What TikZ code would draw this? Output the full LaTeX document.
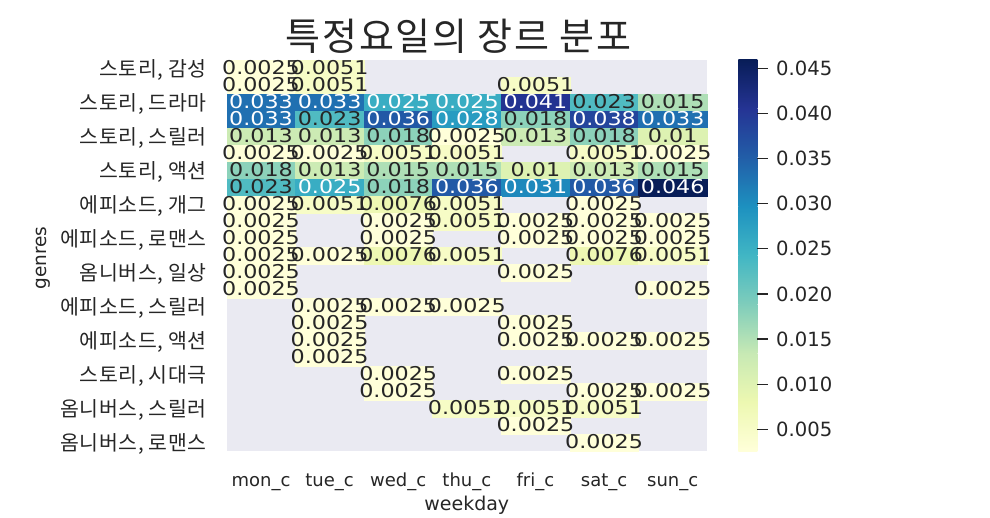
\documentclass[tikz,border=0pt]{standalone}
\usepackage{fontspec}
\setmainfont{DejaVu Sans}
\newfontfamily\krfont[LetterSpace=3]{Noto Sans CJK KR}
\newfontfamily\krtitle[LetterSpace=4.5]{Noto Sans CJK KR}
\newfontfamily\annfont[FakeStretch=1.17]{DejaVu Sans}
\definecolor{axbg}{HTML}{EAEAF2}
\definecolor{tdark}{HTML}{262626}
\definecolor{k1}{RGB}{255,255,217}
\definecolor{k2}{RGB}{247,252,198}
\definecolor{k3}{RGB}{238,248,179}
\definecolor{k4}{RGB}{221,242,178}
\definecolor{k5}{RGB}{204,235,180}
\definecolor{k6}{RGB}{174,223,182}
\definecolor{k7}{RGB}{140,210,186}
\definecolor{k8}{RGB}{109,198,190}
\definecolor{k9}{RGB}{80,187,194}
\definecolor{k10}{RGB}{57,173,195}
\definecolor{k11}{RGB}{40,156,193}
\definecolor{k12}{RGB}{30,136,188}
\definecolor{k13}{RGB}{32,112,177}
\definecolor{k14}{RGB}{34,89,166}
\definecolor{k15}{RGB}{36,69,156}
\definecolor{k16}{RGB}{35,51,145}
\definecolor{k17}{RGB}{22,40,116}
\definecolor{k18}{RGB}{8,29,88}
\definecolor{ga}{HTML}{FFFFD9}
\definecolor{gb}{HTML}{EDF8B1}
\definecolor{gc}{HTML}{C7E9B4}
\definecolor{gd}{HTML}{7FCDBB}
\definecolor{ge}{HTML}{41B6C4}
\definecolor{gf}{HTML}{1D91C0}
\definecolor{gg}{HTML}{225EA8}
\definecolor{gh}{HTML}{253494}
\definecolor{gi}{HTML}{081D58}
\pgfkeyssetvalue{/vl/1}{0.0025}
\pgfkeyssetvalue{/vl/2}{0.0051}
\pgfkeyssetvalue{/vl/3}{0.0076}
\pgfkeyssetvalue{/vl/4}{0.01}
\pgfkeyssetvalue{/vl/5}{0.013}
\pgfkeyssetvalue{/vl/6}{0.015}
\pgfkeyssetvalue{/vl/7}{0.018}
\pgfkeyssetvalue{/vl/9}{0.023}
\pgfkeyssetvalue{/vl/10}{0.025}
\pgfkeyssetvalue{/vl/11}{0.028}
\pgfkeyssetvalue{/vl/12}{0.031}
\pgfkeyssetvalue{/vl/13}{0.033}
\pgfkeyssetvalue{/vl/14}{0.036}
\pgfkeyssetvalue{/vl/15}{0.038}
\pgfkeyssetvalue{/vl/16}{0.041}
\pgfkeyssetvalue{/vl/18}{0.046}
\def\xo{226.7}
\def\yo{60}
\def\cw{68.614}
\def\ch{17}
\tikzset{
  annot/.style={inner sep=0pt, anchor=base, font=\annfont\fontsize{19}{19}\selectfont},
  ylab/.style={inner sep=0pt, anchor=base east, text=tdark, font=\krfont\fontsize{20.5}{21}\selectfont},
  xlab/.style={inner sep=0pt, anchor=base, text=tdark, font=\fontsize{18}{18}\selectfont},
  cblab/.style={inner sep=0pt, anchor=base west, text=tdark, font=\fontsize{19.6}{20}\selectfont},
  cbtick/.style={draw=tdark, line width=1.2pt}
}
\newcommand{\heatrows}{0/{1,2,0,0,0,0,0},1/{1,2,0,0,2,0,0},2/{13,13,10,10,16,9,6},3/{13,9,14,11,7,15,13},4/{5,5,7,1,5,7,4},5/{1,1,2,2,0,2,1},6/{7,5,6,6,4,5,6},7/{9,10,7,14,12,14,18},8/{1,2,3,2,0,1,0},9/{1,0,1,2,1,1,1},10/{1,0,1,0,1,1,1},11/{1,1,3,2,0,3,2},12/{1,0,0,0,1,0,0},13/{1,0,0,0,0,0,1},14/{0,1,1,1,0,0,0},15/{0,1,0,0,1,0,0},16/{0,1,0,0,1,1,1},17/{0,1,0,0,0,0,0},18/{0,0,1,0,1,0,0},19/{0,0,1,0,0,1,1},20/{0,0,0,2,2,2,0},21/{0,0,0,0,1,0,0},22/{0,0,0,0,0,1,0}}
\begin{document}
\begin{tikzpicture}[x=1pt,y=-1pt]
\useasboundingbox (0,0) rectangle (990,518);
\fill[white] (0,0) rectangle (990,518);
% axes background
\fill[axbg] (\xo,\yo) rectangle (707,451);
% cells
\foreach \r/\vals in \heatrows {
  \foreach \v [count=\c from 0] in \vals {
    \ifnum\v>0
      \fill[fill=k\v, draw=k\v, line width=0.3pt] ({\xo+\c*\cw},{\yo+\r*\ch}) rectangle ++(\cw,\ch);
    \fi
  }
}
% annotations
\foreach \r/\vals in \heatrows {
  \foreach \v [count=\c from 0] in \vals {
    \ifnum\v>0
      \ifnum\v>9 \def\tc{white}\else\def\tc{tdark}\fi
      \node[annot, text=\tc] (a\r-\c) at ({\xo+(\c+0.5)*\cw},{\yo+(\r+0.5)*\ch+6}) {\pgfkeysvalueof{/vl/\v}};
    \fi
  }
}
% y tick labels
\node[ylab] (y0)  at (207,{\yo+0.5*\ch+7.6})  {스토리, 감성};
\node[ylab] (y2)  at (207,{\yo+2.5*\ch+7.6})  {스토리, 드라마};
\node[ylab] (y4)  at (207,{\yo+4.5*\ch+7.6})  {스토리, 스릴러};
\node[ylab] (y6)  at (207,{\yo+6.5*\ch+7.6})  {스토리, 액션};
\node[ylab] (y8)  at (207,{\yo+8.5*\ch+7.6})  {에피소드, 개그};
\node[ylab] (y10) at (207,{\yo+10.5*\ch+7.6}) {에피소드, 로맨스};
\node[ylab] (y12) at (207,{\yo+12.5*\ch+7.6}) {옴니버스, 일상};
\node[ylab] (y14) at (207,{\yo+14.5*\ch+7.6}) {에피소드, 스릴러};
\node[ylab] (y16) at (207,{\yo+16.5*\ch+7.6}) {에피소드, 액션};
\node[ylab] (y18) at (207,{\yo+18.5*\ch+7.6}) {스토리, 시대극};
\node[ylab] (y20) at (207,{\yo+20.5*\ch+7.6}) {옴니버스, 스릴러};
\node[ylab] (y22) at (207,{\yo+22.5*\ch+7.6}) {옴니버스, 로맨스};
% x tick labels
\foreach \t [count=\c from 0] in {mon\_c,tue\_c,wed\_c,thu\_c,fri\_c,sat\_c,sun\_c} {
  \node[xlab] (x\c) at ({\xo+(\c+0.5)*\cw},486) {\t};
}
% axis labels
\node[inner sep=0pt, anchor=base, text=tdark, font=\fontsize{19}{19}\selectfont] (xlabel) at (466.8,510.5) {weekday};
\node[inner sep=0pt, anchor=center, rotate=90, text=tdark, font=\fontsize{18.5}{19}\selectfont] (ylabel) at (43.3,258) {genres};
% title
\node[inner sep=0pt, anchor=base, text=tdark, font=\krtitle\fontsize{38}{40}\selectfont] (title) at (458.5,51) {특정요일의 장르 분포};
% colorbar
\foreach \ca/\cb [count=\i from 0] in {ga/gb,gb/gc,gc/gd,gd/ge,ge/gf,gf/gg,gg/gh,gh/gi} {
  \shade[bottom color=\ca, top color=\cb] (738.3,{451-(\i+1)*48.875-0.2}) rectangle (757.3,{451-\i*48.875});
}
\foreach \t [count=\j from 0] in {0.045,0.040,0.035,0.030,0.025,0.020,0.015,0.010,0.005} {
  \draw[cbtick] (757.3,{68.3+45.125*\j}) -- (768.3,{68.3+45.125*\j});
  \node[cblab] (cb\j) at (776,{68.3+45.125*\j+7.1}) {\t};
}
\end{tikzpicture}
\end{document}
